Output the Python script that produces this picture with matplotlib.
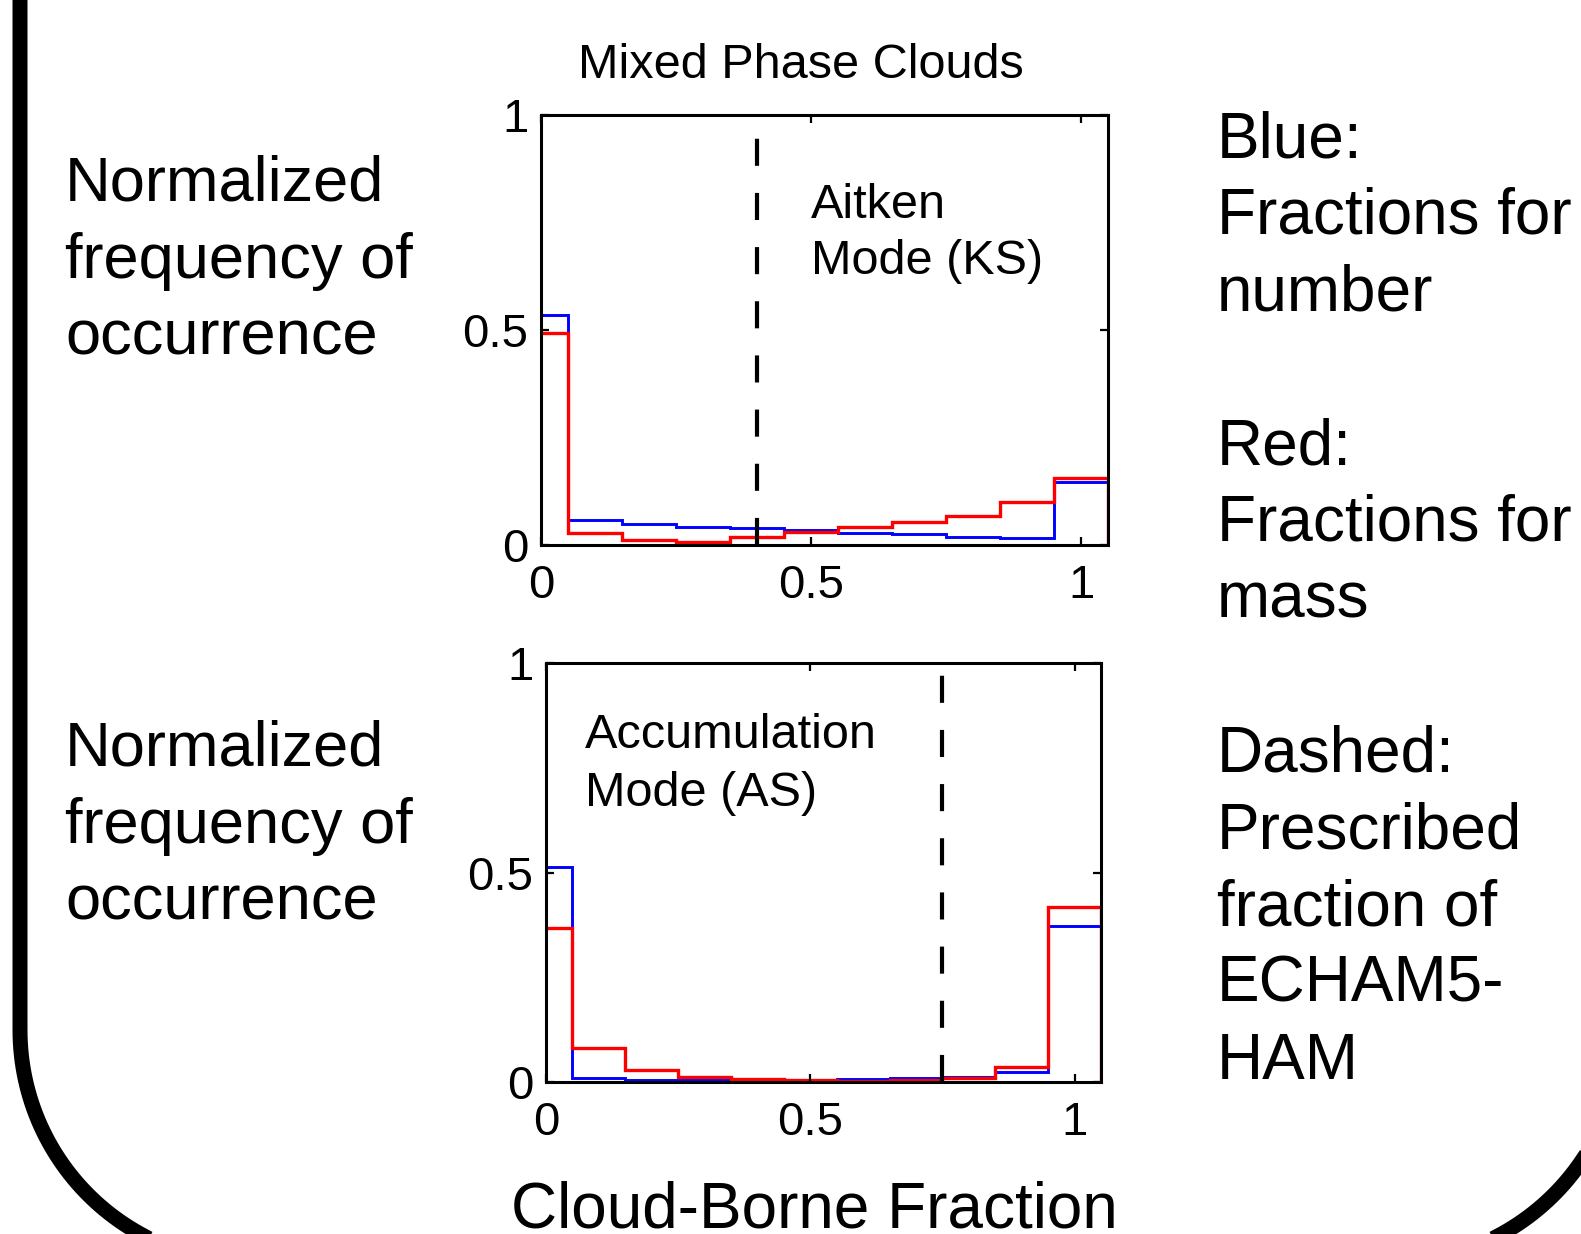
import numpy as np
import matplotlib
matplotlib.use('Agg')
import matplotlib.pyplot as plt
from matplotlib.lines import Line2D

plt.rcParams['font.family'] = ['Liberation Sans', 'DejaVu Sans']

# bin edges of the cloud-borne fraction histogram (first bin centred on 0)
edges = [-0.05, 0.05, 0.15, 0.25, 0.35, 0.45, 0.55, 0.65, 0.75, 0.85, 0.95, 1.05]

# Aitken mode (KS), mixed phase clouds
ks_number = [0.535, 0.058, 0.050, 0.043, 0.040, 0.036, 0.029, 0.025, 0.019, 0.017, 0.147]
ks_mass = [0.492, 0.027, 0.012, 0.008, 0.019, 0.031, 0.041, 0.054, 0.067, 0.100, 0.155]
ks_prescribed = 0.4

# Accumulation mode (AS), mixed phase clouds
as_number = [0.512, 0.009, 0.005, 0.005, 0.005, 0.005, 0.008, 0.009, 0.013, 0.024, 0.372]
as_mass = [0.368, 0.080, 0.029, 0.013, 0.006, 0.004, 0.002, 0.004, 0.010, 0.036, 0.418]
as_prescribed = 0.75

W, H = 1581, 1234
fig = plt.figure(figsize=(W / 100, H / 100), dpi=100)


def fx(x):
    return x / W


def fy(y):
    return 1 - y / H


def panel(box, number, mass, presc):
    l, t, r, b = box
    ax = fig.add_axes([fx(l), fy(b), fx(r) - fx(l), fy(t) - fy(b)])
    ax.stairs(number, edges, color='#0000ff', lw=2.1, baseline=0)
    ax.stairs(mass, edges, color='#ff0000', lw=2.4, baseline=0)
    ax.plot([presc, presc], [0, 1], color='black', lw=3.0, ls=(0, (6.5, 6.5)))
    ax.set_xlim(0, 1.05)
    ax.set_ylim(0, 1)
    ax.set_xticks([0, 0.5, 1])
    ax.set_xticklabels(['0', '0.5', '1'])
    ax.set_yticks([0, 0.5, 1])
    ax.set_yticklabels(['0', '0.5', '1'])
    ax.tick_params(direction='in', length=6, width=1.6, top=True, right=True,
                   labelsize=34)
    ax.tick_params(axis='x', pad=14)
    ax.tick_params(axis='y', pad=9)
    for s in ax.spines.values():
        s.set_linewidth(2.2)
    return ax


ax1 = panel((541, 115, 1108, 545), ks_number, ks_mass, ks_prescribed)
ax2 = panel((546, 663, 1101, 1082), as_number, as_mass, as_prescribed)

# panel annotations
fig.text(fx(801), fy(66), 'Mixed Phase Clouds', fontsize=35, ha='center', va='center')
fig.text(fx(811), fy(205), 'Aitken', fontsize=35, ha='left', va='center')
fig.text(fx(811), fy(261), 'Mode (KS)', fontsize=35, ha='left', va='center')
fig.text(fx(585), fy(736), 'Accumulation', fontsize=35, ha='left', va='center')
fig.text(fx(585), fy(793), 'Mode (AS)', fontsize=35, ha='left', va='center')

# left y descriptions
ylab = ['Normalized', 'frequency of', 'occurrence']
for y0 in (184, 749):
    for i, line in enumerate(ylab):
        fig.text(fx(65), fy(y0 + 77 * i), line, fontsize=45.5, ha='left', va='center')

# right-hand key
key = ['Blue:', 'Fractions for', 'number', '',
       'Red:', 'Fractions for', 'mass', '',
       'Dashed:', 'Prescribed', 'fraction of', 'ECHAM5-', 'HAM']
for i, line in enumerate(key):
    fig.text(fx(1217), fy(140 + 76.8 * i), line, fontsize=46, ha='left', va='center')

fig.text(fx(814), fy(1210), 'Cloud-Borne Fraction', fontsize=46, ha='center', va='center')

# rounded frame around the figure (pixel coordinates, y downwards)
R = 233
xl, xr, yb, yc = 20, 1622, 1263, 1030
t = np.linspace(0, np.pi / 2, 60)
left_arc_x = xl + R - R * np.cos(t)
left_arc_y = yc + R * np.sin(t)
right_arc_x = xr - R + R * np.cos(t[::-1])
right_arc_y = yc + R * np.sin(t[::-1])
px = np.concatenate([[xl], left_arc_x, right_arc_x, [xr]])
py = np.concatenate([[-50], left_arc_y, right_arc_y, [-50]])
fig.add_artist(Line2D(px / W, 1 - py / H, transform=fig.transFigure,
                      color='black', lw=10.8, solid_joinstyle='round'))

fig.savefig('out.png', dpi=100)
